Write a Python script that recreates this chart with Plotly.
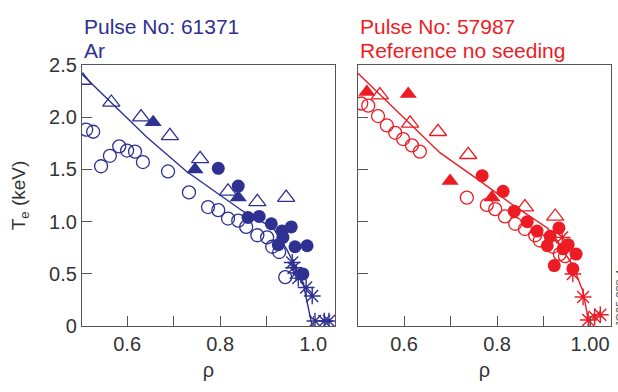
import plotly.graph_objects as go

BLUE = "#2e3192"
RED = "#ed1c24"

# ---- Left panel: Pulse 61371 (Ar) ----
L_open_tri_x = [0.505, 0.566, 0.630, 0.692, 0.757, 0.817, 0.880, 0.942]
L_open_tri_y = [2.35, 2.14, 2.00, 1.82, 1.60, 1.29, 1.19, 1.23]
L_fill_tri_x = [0.656, 0.746, 0.839]
L_fill_tri_y = [1.95, 1.50, 1.23]
L_fill_circ_x = [0.796, 0.839, 0.860, 0.884, 0.910, 0.933, 0.953, 0.935, 0.925, 0.961, 0.987, 0.978]
L_fill_circ_y = [1.51, 1.34, 1.04, 1.05, 0.98, 0.91, 0.95, 0.85, 0.78, 0.76, 0.77, 0.50]
L_open_circ_x = [0.512, 0.527, 0.544, 0.563, 0.583, 0.600, 0.617, 0.634, 0.688, 0.733, 0.774,
                 0.796, 0.817, 0.839, 0.856, 0.880, 0.901, 0.912, 0.927, 0.940]
L_open_circ_y = [1.88, 1.86, 1.53, 1.63, 1.72, 1.68, 1.67, 1.57, 1.48, 1.28, 1.14,
                 1.11, 1.03, 1.01, 0.95, 0.87, 0.85, 0.76, 0.71, 0.47]
L_star_x = [0.955, 0.958, 0.963, 0.968, 0.985, 0.998, 1.004, 1.024, 1.034]
L_star_y = [0.61, 0.56, 0.51, 0.46, 0.37, 0.29, 0.05, 0.05, 0.05]
L_fit_x = [0.503, 0.642, 0.728, 0.800, 0.849, 0.914, 0.944, 0.978, 0.994, 0.998]
L_fit_y = [2.41, 1.81, 1.48, 1.25, 1.10, 0.94, 0.73, 0.42, 0.06, 0.0]

# ---- Right panel: Pulse 57987 (reference, no seeding) ----
R_fill_tri_x = [0.520, 0.609, 0.699, 0.789]
R_fill_tri_y = [2.24, 2.22, 1.39, 1.23]
R_open_tri_x = [0.548, 0.613, 0.673, 0.738, 0.860, 0.925]
R_open_tri_y = [2.21, 1.94, 1.86, 1.64, 1.14, 1.05]
R_open_circ_x = [0.508, 0.523, 0.544, 0.563, 0.581, 0.598, 0.617, 0.634, 0.735, 0.778,
                 0.796, 0.817, 0.839, 0.860, 0.882, 0.892, 0.920, 0.935, 0.946]
R_open_circ_y = [2.13, 2.11, 2.01, 1.92, 1.85, 1.79, 1.73, 1.67, 1.23, 1.16,
                 1.12, 1.05, 0.98, 0.93, 0.87, 0.82, 0.76, 0.69, 0.67]
R_fill_circ_x = [0.768, 0.813, 0.837, 0.865, 0.886, 0.914, 0.933, 0.908, 0.942, 0.970, 0.923, 0.963, 0.953]
R_fill_circ_y = [1.44, 1.29, 1.10, 1.00, 0.91, 0.86, 0.94, 0.77, 0.74, 0.69, 0.58, 0.55, 0.78]
R_star_x = [0.940, 0.963, 0.985, 0.996, 1.010, 1.022]
R_star_y = [0.85, 0.50, 0.28, 0.06, 0.09, 0.11]
R_fit_x = [0.501, 0.677, 0.763, 0.834, 0.908, 0.929, 0.963, 0.985, 0.996, 0.998]
R_fit_y = [2.42, 1.66, 1.39, 1.16, 0.94, 0.82, 0.58, 0.33, 0.06, 0.0]

Y_TICKS = [0, 0.5, 1.0, 1.5, 2.0, 2.5]
Y_TICK_TEXT = ["0", "0.5", "1.0", "1.5", "2.0", "2.5"]
X_TICKS = [0.6, 0.7, 0.8, 0.9, 1.0]
XL_TICK_TEXT = ["0.6", "", "0.8", "", "1.0"]
XR_TICK_TEXT = ["0.6", "", "0.8", "", "1.00"]

fig = go.Figure()


def add_panel(color, xa, ya, fx, fy, oc, fc, ot, ft, st):
    fig.add_trace(go.Scatter(x=fx, y=fy, mode="lines", line=dict(color=color, width=1.4),
                             xaxis=xa, yaxis=ya, showlegend=False))
    fig.add_trace(go.Scatter(x=oc[0], y=oc[1], mode="markers", xaxis=xa, yaxis=ya, showlegend=False,
                             marker=dict(symbol="circle-open", size=13, color=color, line=dict(width=1.3))))
    fig.add_trace(go.Scatter(x=ot[0], y=ot[1], mode="markers", xaxis=xa, yaxis=ya, showlegend=False,
                             marker=dict(symbol="triangle-up-open", size=15, color=color, line=dict(width=1.3))))
    fig.add_trace(go.Scatter(x=ft[0], y=ft[1], mode="markers", xaxis=xa, yaxis=ya, showlegend=False,
                             marker=dict(symbol="triangle-up", size=15, color=color, line=dict(width=0))))
    fig.add_trace(go.Scatter(x=fc[0], y=fc[1], mode="markers", xaxis=xa, yaxis=ya, showlegend=False,
                             marker=dict(symbol="circle", size=13, color=color, line=dict(width=0))))
    fig.add_trace(go.Scatter(x=st[0], y=st[1], mode="markers", xaxis=xa, yaxis=ya, showlegend=False,
                             marker=dict(symbol="asterisk-open", size=14, color=color, line=dict(width=1.4, color=color))))


add_panel(BLUE, "x", "y", L_fit_x, L_fit_y,
          (L_open_circ_x, L_open_circ_y), (L_fill_circ_x, L_fill_circ_y),
          (L_open_tri_x, L_open_tri_y), (L_fill_tri_x, L_fill_tri_y), (L_star_x, L_star_y))
add_panel(RED, "x2", "y2", R_fit_x, R_fit_y,
          (R_open_circ_x, R_open_circ_y), (R_fill_circ_x, R_fill_circ_y),
          (R_open_tri_x, R_open_tri_y), (R_fill_tri_x, R_fill_tri_y), (R_star_x, R_star_y))

W, H = 618, 392
FONT = "Liberation Sans, Arial, sans-serif"
axcol = "#555555"
tickfont = dict(family=FONT, size=20, color="#333333")

common_x = dict(showline=True, mirror=True, linecolor=axcol, linewidth=1.2, ticks="inside",
                ticklen=10, tickcolor=axcol, tickwidth=1, showgrid=False, zeroline=False,
                tickvals=X_TICKS, tickfont=tickfont,
                title=dict(text="ρ", font=dict(family=FONT, size=20, color="#333333"), standoff=8))
common_y = dict(showline=True, mirror=True, linecolor=axcol, linewidth=1.2, ticks="inside",
                ticklen=10, tickcolor=axcol, tickwidth=1, showgrid=False, zeroline=False,
                range=[0, 2.5], tickvals=Y_TICKS, tickfont=tickfont)

yb = 1 - 334 / H
yt = 1 - 57 / H

fig.update_layout(
    width=W, height=H, margin=dict(l=0, r=0, t=0, b=0),
    paper_bgcolor="white", plot_bgcolor="white",
    xaxis=dict(common_x, domain=[82 / W, 335 / W], range=[0.503, 1.047], ticktext=XL_TICK_TEXT, anchor="y"),
    yaxis=dict(common_y, domain=[yb, yt], ticktext=Y_TICK_TEXT, anchor="x",
               title=dict(text="T<sub>e</sub> (keV)", font=dict(family=FONT, size=19, color="#333333"),
                          standoff=18)),
    xaxis2=dict(common_x, domain=[358 / W, 611 / W], range=[0.501, 1.045], ticktext=XR_TICK_TEXT, anchor="y2"),
    yaxis2=dict(common_y, domain=[yb, yt], showticklabels=False, anchor="x2"),
)

tfont_b = dict(family=FONT, size=21, color=BLUE)
tfont_r = dict(family=FONT, size=21, color=RED)
fig.add_annotation(text="Pulse No: 61371", x=82 / W, y=1 - 16 / H, xref="paper", yref="paper",
                   xanchor="left", yanchor="middle", showarrow=False, font=tfont_b)
fig.add_annotation(text="Ar", x=82 / W, y=1 - 42 / H, xref="paper", yref="paper",
                   xanchor="left", yanchor="middle", showarrow=False, font=tfont_b)
fig.add_annotation(text="Pulse No: 57987", x=358 / W, y=1 - 16 / H, xref="paper", yref="paper",
                   xanchor="left", yanchor="middle", showarrow=False, font=tfont_r)
fig.add_annotation(text="Reference no seeding", x=358 / W, y=1 - 42 / H, xref="paper", yref="paper",
                   xanchor="left", yanchor="middle", showarrow=False, font=tfont_r)
fig.add_annotation(text="JG05.328-4c", x=620 / W, y=1 - 302 / H, xref="paper", yref="paper",
                   xanchor="center", yanchor="middle", showarrow=False, textangle=-90,
                   font=dict(family=FONT, size=11, color="#555555"))

fig.write_html("out.html")
